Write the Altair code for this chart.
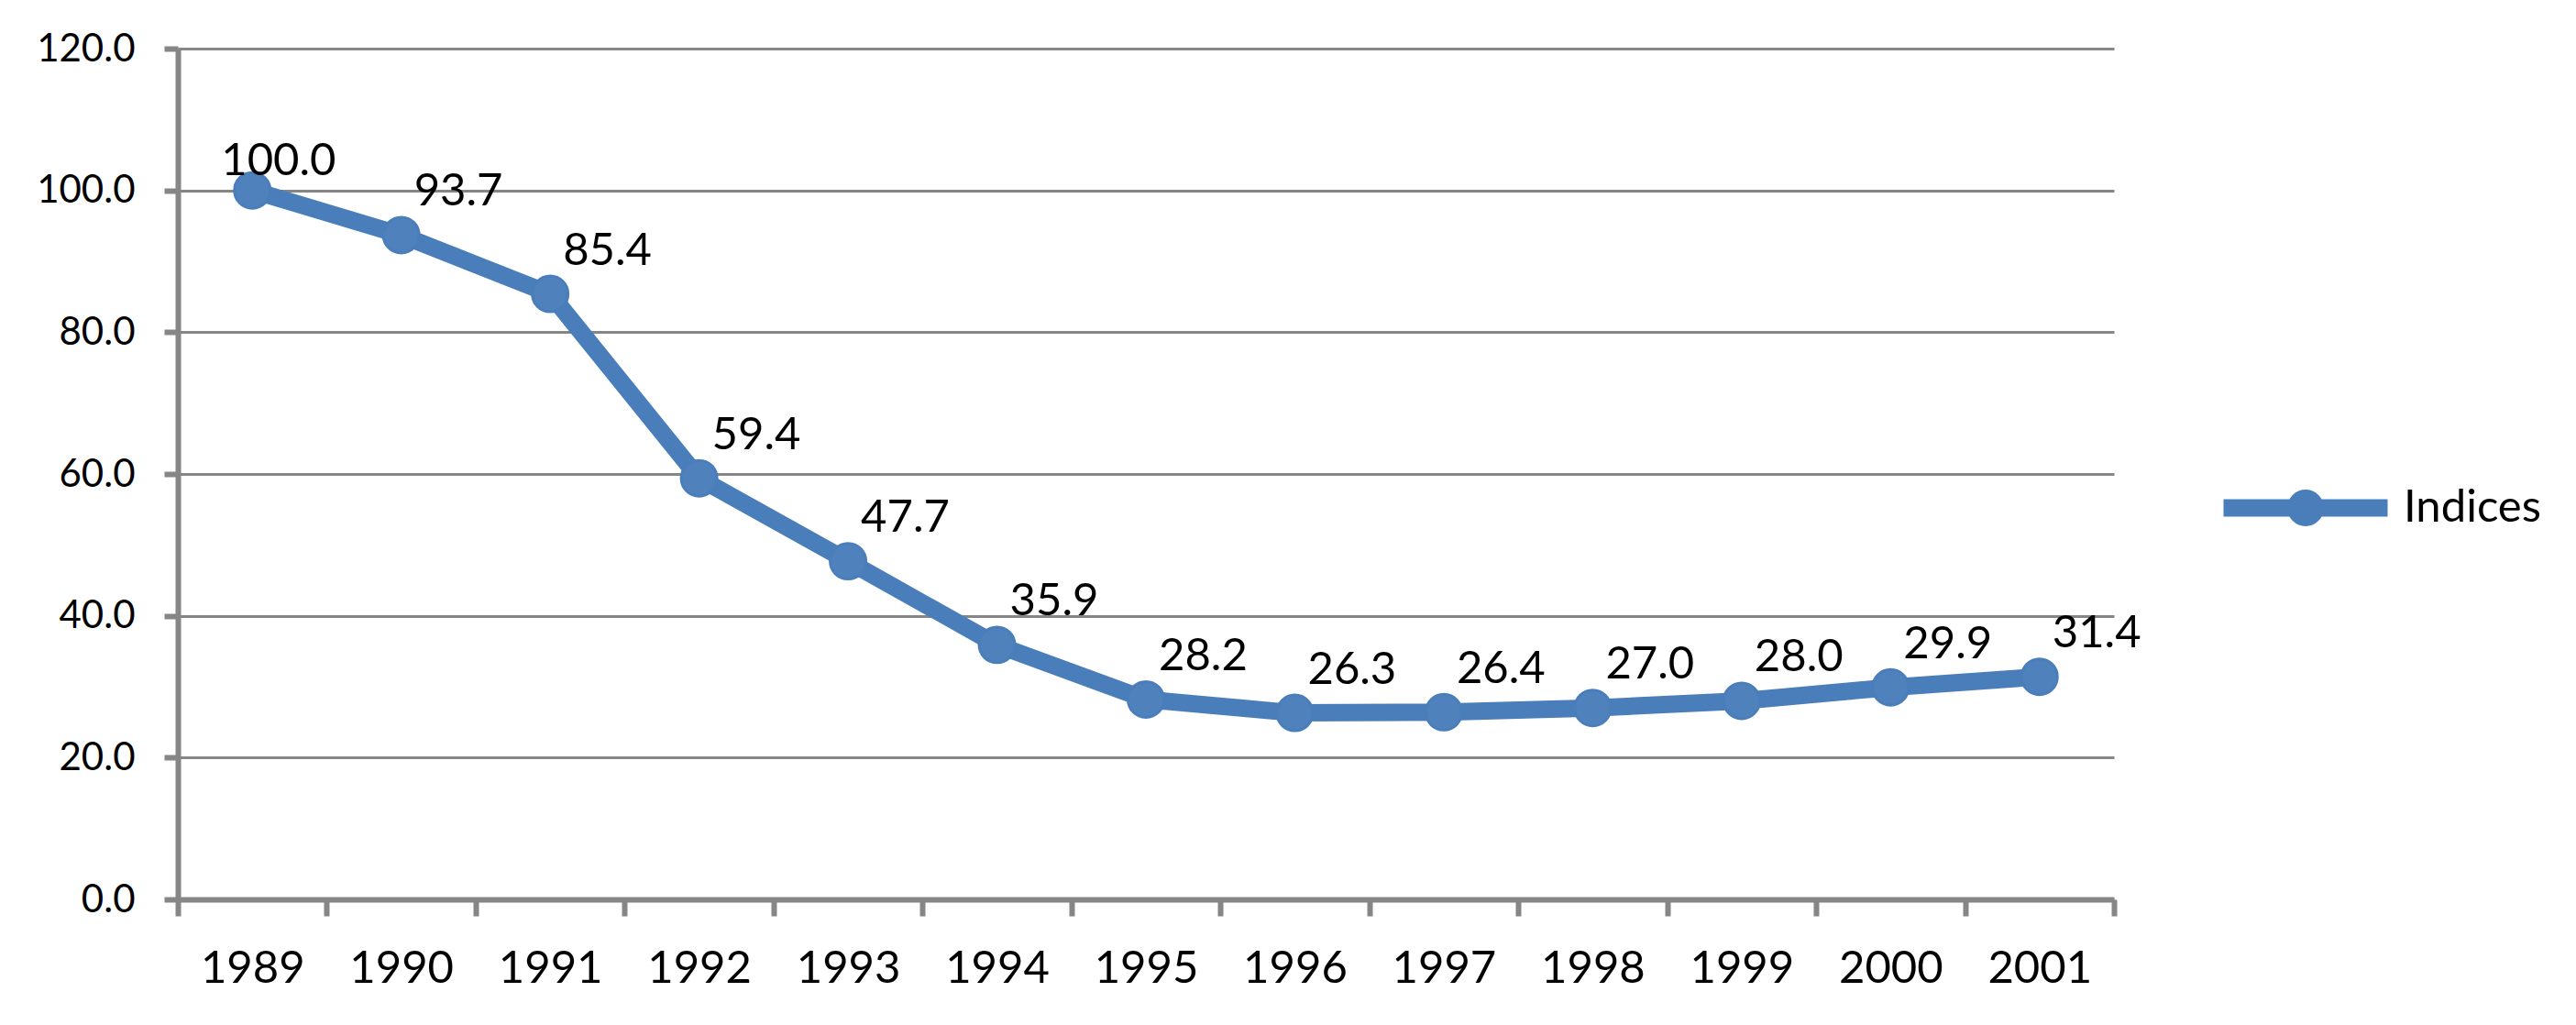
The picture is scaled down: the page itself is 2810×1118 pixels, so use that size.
import altair as alt
import pandas as pd

years = [1989, 1990, 1991, 1992, 1993, 1994, 1995, 1996, 1997, 1998, 1999, 2000, 2001]
indices = [100.0, 93.7, 85.4, 59.4, 47.7, 35.9, 28.2, 26.3, 26.4, 27.0, 28.0, 29.9, 31.4]
series_name = "Indices"
y_ticks = [0, 20, 40, 60, 80, 100, 120]

df = pd.DataFrame({"year": years, "value": indices, "series": [series_name] * len(years)})

boundaries = [y - 0.5 for y in years] + [years[-1] + 0.5]
x_values = sorted(set(boundaries + years))

FONT = "Lato"
LINE = "#4A7EBB"
FILL = "#4F81BD"
GRAY = "#868686"

x_enc = alt.X(
    "year:Q",
    scale=alt.Scale(domain=[boundaries[0], boundaries[-1]], nice=False, zero=False),
    axis=alt.Axis(
        values=x_values, title=None, grid=False,
        labelExpr="(datum.value - floor(datum.value)) > 0.25 ? '' : '' + round(datum.value)",
        labelOverlap=False, labelFlush=False,
        tickOpacity={"condition": {"test": "(datum.value - floor(datum.value)) > 0.25", "value": 1}, "value": 0},
        tickSize=18, tickWidth=6, tickColor=GRAY,
        domainColor=GRAY, domainWidth=6,
        labelFont=FONT, labelFontSize=49, labelColor="black", labelPadding=33,
    ),
)
y_enc = alt.Y(
    "value:Q",
    scale=alt.Scale(domain=[0, 120], nice=False),
    axis=alt.Axis(
        values=y_ticks, format=".1f", title=None, grid=True,
        gridColor=GRAY, gridWidth=3,
        tickSize=15, tickWidth=6, tickColor=GRAY,
        domainColor=GRAY, domainWidth=6,
        labelFont=FONT, labelFontSize=42, labelColor="black", labelPadding=32,
    ),
)

base = alt.Chart(df).encode(x=x_enc, y=y_enc)

r = 0.117
legend_path = (
    f"M-1,0L1,0M{r},0A{r},{r},0,1,1,{-r},0A{r},{r},0,1,1,{r},0Z"
)

line = base.mark_line(strokeWidth=19, strokeJoin="round", strokeCap="round").encode(
    color=alt.Color(
        "series:N",
        scale=alt.Scale(domain=[series_name], range=[LINE]),
        legend=alt.Legend(
            title=None, orient="none", legendX=2222, legendY=402,
            symbolType=legend_path, symbolSize=32041, symbolStrokeWidth=19,
            symbolStrokeColor=LINE, symbolFillColor=LINE,
            labelFont=FONT, labelFontSize=49, labelColor="black",
            labelOffset=8, padding=0,
        ),
    )
)

points = base.mark_point(
    shape="circle", filled=True, fill=FILL, stroke=LINE, strokeWidth=3,
    size=1520, opacity=1,
)

text_style = dict(align="left", baseline="alphabetic", font=FONT, fontSize=49, color="black")
first_year = years[0]

labels = base.mark_text(dx=14, dy=-32, **text_style).encode(
    text=alt.Text("value:Q", format=".1f")
).transform_filter(alt.datum.year != first_year)

first_label = base.mark_text(dx=-34, dy=-17, **text_style).encode(
    text=alt.Text("value:Q", format=".1f")
).transform_filter(alt.datum.year == first_year)

chart = (
    alt.layer(line, points, labels, first_label)
    .properties(
        width=2112, height=928,
        autosize=alt.AutoSizeParams(type="none"),
        padding={"left": 186, "top": 45, "right": 480, "bottom": 100},
        background="white",
    )
    .configure_view(stroke=None)
)

chart.save("out.html", embed_options={"renderer": "svg", "actions": False})
